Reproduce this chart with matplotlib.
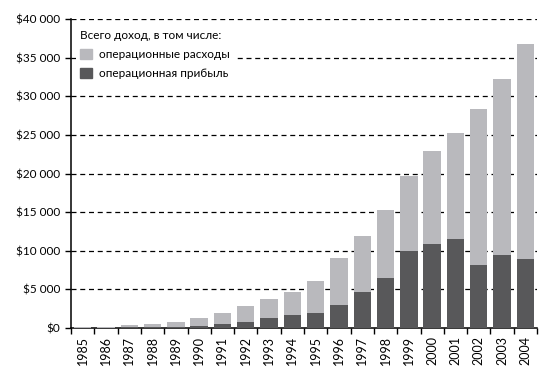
import matplotlib
matplotlib.use("Agg")
import matplotlib.pyplot as plt
from matplotlib.ticker import FuncFormatter, FixedLocator
from matplotlib.patches import Patch

plt.rcParams['font.family'] = ['Lato', 'DejaVu Sans']

years = ["1985", "1986", "1987", "1988", "1989", "1990", "1991", "1992", "1993", "1994",
         "1995", "1996", "1997", "1998", "1999", "2000", "2001", "2002", "2003", "2004"]
# total revenue and operating profit, $ millions
total_revenue = [150, 160, 430, 560, 800, 1330, 1980, 2880, 3790, 4700,
                 6100, 9060, 11900, 15300, 19700, 22950, 25300, 28400, 32200, 36800]
operating_profit = [40, 50, 100, 150, 170, 300, 560, 820, 1330, 1680,
                    1950, 2980, 4660, 6470, 9970, 10900, 11550, 8160, 9450, 8930]
operating_costs = [t - p for t, p in zip(total_revenue, operating_profit)]

light = "#b9b9bd"
dark = "#58585a"

fig = plt.figure(figsize=(5.57, 3.72), dpi=100)
ax = fig.add_axes([71 / 557, 1 - 328 / 372, 466 / 557, 309 / 372])

x = list(range(len(years)))
ax.bar(x, operating_profit, width=0.75, color=dark, zorder=3)
ax.bar(x, operating_costs, width=0.75, bottom=operating_profit, color=light, zorder=3)

ax.set_xlim(-0.5, len(years) - 0.5)
ax.set_ylim(0, 40000)
ax.set_yticks(range(0, 40001, 5000))
ax.yaxis.set_major_formatter(FuncFormatter(lambda v, p: "$" + f"{int(v):,}".replace(",", " ")))

for y in range(5000, 40001, 5000):
    ax.axhline(y, color="black", lw=0.9, linestyle=(0, (4, 3)), zorder=1)

ax.set_xticks(x)
ax.set_xticklabels(years, rotation=90, fontsize=9)
ax.tick_params(axis="x", which="major", length=0, pad=6)
ax.xaxis.set_minor_locator(FixedLocator([i - 0.5 for i in range(len(years) + 1)]))
ax.tick_params(axis="x", which="minor", length=4, width=1, direction="out")
ax.tick_params(axis="y", length=4, width=1, labelsize=8.5, direction="out")

for s in ["top", "right"]:
    ax.spines[s].set_visible(False)
for s in ["left", "bottom"]:
    ax.spines[s].set_linewidth(1.1)
    ax.spines[s].set_color("black")

handles = [Patch(color=light, label="операционные расходы"),
           Patch(color=dark, label="операционная прибыль")]
leg = ax.legend(handles=handles, title="Всего доход, в том числе:", loc="upper left",
                frameon=True, fontsize=8.5, title_fontsize=8.5, alignment="left",
                handlelength=1.0, handleheight=1.0, handletextpad=0.6,
                labelspacing=0.65, borderaxespad=0.4, bbox_to_anchor=(0.0, 0.995))
leg.get_frame().set_facecolor("white")
leg.get_frame().set_edgecolor("none")
leg.get_frame().set_alpha(1)
leg.set_zorder(5)

fig.savefig("out.png", dpi=100)
